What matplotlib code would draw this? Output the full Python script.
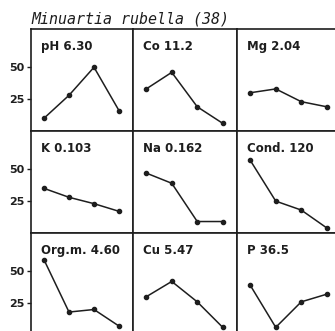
import matplotlib
matplotlib.use('Agg')
import matplotlib.pyplot as plt

# Minuartia rubella (38): response curves along 4 classes of each factor
x = [1, 2, 3, 4]

labels = ['pH 6.30', 'Co 11.2', 'Mg 2.04',
          'K 0.103', 'Na 0.162', 'Cond. 120',
          'Org.m. 4.60', 'Cu 5.47', 'P 36.5']

ph = [10, 28, 50, 16]
co = [33, 46, 19, 6]
mg = [30, 33, 23, 19]
k = [35, 28, 23, 17]
na = [47, 39, 9, 9]
cond = [57, 25, 18, 4]
orgm = [59, 18, 20, 7]
cu = [30, 42, 26, 6]
p = [39, 6, 26, 32]

series = [ph, co, mg, k, na, cond, orgm, cu, p]

yticks = [25, 50]

W, H = 335, 331
fig = plt.figure(figsize=(W / 100, H / 100), dpi=100)

col_left = [31, 133, 237]
col_w = [102, 104, 104]
row_top = [29, 131, 233]
row_h = 102

ink = '#1e1e1e'
mono = 'DejaVu Sans Mono'
sans = 'DejaVu Sans'

for i, (lab, y) in enumerate(zip(labels, series)):
    r, c = divmod(i, 3)
    ax = fig.add_axes([col_left[c] / W, 1 - (row_top[r] + row_h) / H,
                       col_w[c] / W, row_h / H])
    ax.plot(x, y, color=ink, lw=1.1, marker='o', ms=3, mfc=ink, mec=ink)
    ax.set_xlim(0.48, 4.56)
    ax.set_ylim(0, 80)
    for s in ax.spines.values():
        s.set_color(ink)
        s.set_linewidth(1.2)
    ax.set_xticks([])
    if c == 0:
        ax.set_yticks(yticks)
        ax.set_yticklabels([str(t) for t in yticks], family=sans,
                           fontweight='bold', fontsize=8, color=ink)
        ax.tick_params(axis='y', length=3, width=1, pad=1.5, color=ink)
    else:
        ax.set_yticks([])
    ax.text(0.1, 0.89, lab, transform=ax.transAxes, family=sans,
            fontweight='bold', fontsize=8.5, color=ink, va='top', ha='left')

fig.text(31 / W, 1 - 24 / H, 'Minuartia rubella (38)', family=mono,
         style='italic', fontsize=10.8, color=ink, ha='left', va='baseline')

fig.savefig('out.png', dpi=100)
